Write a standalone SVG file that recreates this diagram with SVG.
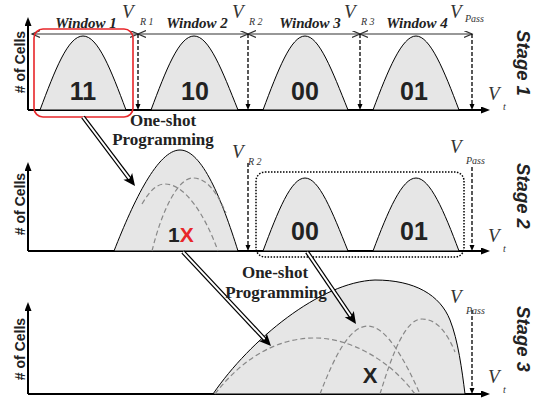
<svg xmlns="http://www.w3.org/2000/svg" width="533" height="400" viewBox="0 0 533 400">
<style>
.ax{stroke:#000;stroke-width:2;fill:none}
.bell{fill:#e6e6e6;stroke:#000;stroke-width:1}
.inner{fill:none;stroke:#888;stroke-width:1.2;stroke-dasharray:5,3}
.vl{stroke:#000;stroke-width:1.3;stroke-dasharray:4,2;fill:none}
.dim{stroke:#333;stroke-width:1.2;fill:none}
.ylab{font-family:"Liberation Sans",Arial,sans-serif;font-weight:bold;font-size:14px;fill:#222}
.stage{font-family:"Liberation Sans",Arial,sans-serif;font-weight:bold;font-style:italic;font-size:18.5px;fill:#222}
.code{font-family:"Liberation Sans",Arial,sans-serif;font-weight:bold;font-size:25px;fill:#222;text-anchor:middle}
.win{font-family:"Liberation Serif","Times New Roman",serif;font-weight:bold;font-style:italic;font-size:15px;fill:#222;text-anchor:middle}
.V{font-family:"Liberation Serif","Times New Roman",serif;font-style:italic;font-size:19px;fill:#333}
.sub{font-family:"Liberation Serif","Times New Roman",serif;font-style:italic;font-size:10px;fill:#333}
.prog{font-family:"Liberation Serif","Times New Roman",serif;font-weight:bold;font-size:17px;fill:#222;text-anchor:middle}
</style>
<defs>
<marker id="axarrow" markerUnits="userSpaceOnUse" markerWidth="10" markerHeight="8" refX="4" refY="3.5" orient="auto"><path d="M0,0 L9,3.5 L0,7 z" fill="#000"/></marker>
<marker id="varrow" markerUnits="userSpaceOnUse" markerWidth="7" markerHeight="6" refX="2" refY="2.5" orient="auto"><path d="M0,0 L6,2.5 L0,5 z" fill="#000"/></marker>
<marker id="dimarrow" markerUnits="userSpaceOnUse" markerWidth="10" markerHeight="8" refX="8" refY="3.5" orient="auto-start-reverse"><path d="M0,0 L8,3.5 L0,7" fill="none" stroke="#333" stroke-width="1.2"/></marker>
</defs>
<rect width="533" height="400" fill="#fff"/>

<!-- Stage 1 -->
<g id="stage1">
  <path class="ax" d="M28,110 L28,22" marker-end="url(#axarrow)"/>
  <path class="ax" d="M28,110 L485,110" marker-end="url(#axarrow)"/>
  <text class="ylab" transform="translate(25,62) rotate(-90)" text-anchor="middle">#  of Cells</text>
  <text class="stage" transform="translate(517,63) rotate(90)" text-anchor="middle">Stage 1</text>
  <g id="s1-window-dims">
    <path class="dim" d="M32,34 L138,34" marker-start="url(#dimarrow)" marker-end="url(#dimarrow)"/>
    <path class="dim" d="M138,34 L248,34" marker-start="url(#dimarrow)" marker-end="url(#dimarrow)"/>
    <path class="dim" d="M248,34 L360,34" marker-start="url(#dimarrow)" marker-end="url(#dimarrow)"/>
    <path class="dim" d="M360,34 L472,34" marker-start="url(#dimarrow)" marker-end="url(#dimarrow)"/>
  </g>
  <g id="s1-vlines">
    <path class="vl" d="M138,34 L138,106" marker-end="url(#varrow)"/>
    <path class="vl" d="M248,34 L248,106" marker-end="url(#varrow)"/>
    <path class="vl" d="M360,34 L360,106" marker-end="url(#varrow)"/>
    <path class="vl" d="M472,34 L472,106" marker-end="url(#varrow)"/>
  </g>
  <g id="s1-11">
    <path class="bell" d="M40,110 C55,70 68,36 83,36 C98,36 111,70 126,110 Z"/>
    <text class="code" x="83" y="100">11</text>
  </g>
  <g id="s1-10">
    <path class="bell" d="M151,110 C166,70 179,36 194,36 C209,36 222,70 238,110 Z"/>
    <text class="code" x="195" y="100">10</text>
  </g>
  <g id="s1-00">
    <path class="bell" d="M263,110 C278,70 291,36 305,36 C319,36 332,70 348,110 Z"/>
    <text class="code" x="305" y="100">00</text>
  </g>
  <g id="s1-01">
    <path class="bell" d="M373,110 C388,70 402,36 416,36 C430,36 444,70 459,110 Z"/>
    <text class="code" x="414" y="100">01</text>
  </g>
  <rect x="34" y="29" width="99" height="88" rx="9" fill="none" stroke="#e8262a" stroke-width="1.6"/>
  <text class="win" x="86" y="28">Window 1</text>
  <text class="win" x="197" y="28">Window 2</text>
  <text class="win" x="310" y="28">Window 3</text>
  <text class="win" x="417" y="28">Window 4</text>
  <text class="V" x="122" y="18">V</text><text class="sub" x="140" y="25">R 1</text>
  <text class="V" x="232" y="18">V</text><text class="sub" x="249" y="25">R 2</text>
  <text class="V" x="344" y="18">V</text><text class="sub" x="361" y="25">R 3</text>
  <text class="V" x="450" y="18">V</text><text class="sub" x="465" y="22">Pass</text>
  <text class="V" x="488" y="100">V</text><text class="sub" x="503" y="110">t</text>
</g>

<!-- Stage 2 -->
<g id="stage2">
  <path class="ax" d="M28,251 L28,167" marker-end="url(#axarrow)"/>
  <path class="ax" d="M28,251 L485,251" marker-end="url(#axarrow)"/>
  <text class="ylab" transform="translate(25,204) rotate(-90)" text-anchor="middle">#  of Cells</text>
  <text class="stage" transform="translate(517,196) rotate(90)" text-anchor="middle">Stage 2</text>
  <g id="s2-1X">
    <path class="bell" d="M114,251 C134,200 158,150 180,150 C202,150 222,200 238,251 Z"/>
    <path class="inner" d="M142,204 C149,192 156,184 165,184 C185,184 205,215 218,251"/>
    <path class="inner" d="M152,251 C162,210 178,178 193,178 C208,178 218,195 226,213"/>
    <text x="168" y="242" font-family="Liberation Sans, Arial, sans-serif" font-weight="bold" font-size="21" fill="#222">1<tspan fill="#e8262a">X</tspan></text>
  </g>
  <g id="s2-00">
    <path class="bell" d="M263,251 C278,211 291,178 305,178 C319,178 332,211 348,251 Z"/>
    <text class="code" x="305" y="240">00</text>
  </g>
  <g id="s2-01">
    <path class="bell" d="M373,251 C388,211 402,178 416,178 C430,178 444,211 459,251 Z"/>
    <text class="code" x="414" y="240">01</text>
  </g>
  <rect x="256" y="172" width="208" height="85" rx="9" fill="none" stroke="#000" stroke-width="1.5" stroke-dasharray="1.5,1.5"/>
  <path class="vl" d="M248,163 L248,247" marker-end="url(#varrow)"/>
  <path class="vl" d="M472,167 L472,247" marker-end="url(#varrow)"/>
  <text class="V" x="232" y="158">V</text><text class="sub" x="248" y="165">R 2</text>
  <text class="V" x="450" y="153">V</text><text class="sub" x="466" y="164">Pass</text>
  <text class="V" x="488" y="242">V</text><text class="sub" x="503" y="252">t</text>
</g>

<!-- Stage 3 -->
<g id="stage3">
  <path class="ax" d="M28,394 L28,307" marker-end="url(#axarrow)"/>
  <path class="ax" d="M28,394 L485,394" marker-end="url(#axarrow)"/>
  <text class="ylab" transform="translate(25,349) rotate(-90)" text-anchor="middle">#  of Cells</text>
  <text class="stage" transform="translate(517,339) rotate(90)" text-anchor="middle">Stage 3</text>
  <g id="s3-X">
    <path class="bell" d="M213,394 C250,340 320,282 375,280 C415,280 440,295 450,320 C458,340 462,370 465,394 Z"/>
    <path class="inner" d="M215,394 C245,355 280,338 315,338 C350,338 390,360 415,394"/>
    <path class="inner" d="M320,394 C335,355 350,326 368,326 C386,326 405,360 420,394"/>
    <path class="inner" d="M380,394 C392,355 405,319 422,319 C438,319 448,335 455,352"/>
    <text x="370" y="383" font-family="Liberation Sans, Arial, sans-serif" font-weight="bold" font-size="22" fill="#222" text-anchor="middle">X</text>
  </g>
  <path class="vl" d="M472,310 L472,390" marker-end="url(#varrow)"/>
  <text class="V" x="450" y="303">V</text><text class="sub" x="466" y="314">Pass</text>
  <text class="V" x="488" y="383">V</text><text class="sub" x="503" y="393">t</text>
</g>

<!-- Connectors -->
<g id="connectors">
  <g transform="translate(135,186) rotate(53.0)">
    <path d="M-86.4,0 L-7,0" stroke="#000" stroke-width="4.4"/>
    <path d="M-86.4,0 L-9,0" stroke="#fff" stroke-width="2"/>
    <polygon points="0,0 -12,-5.5 -9,0 -12,5.5" fill="#000"/>
  </g>
  <g transform="translate(271,346) rotate(46.9)">
    <path d="M-128.8,0 L-7,0" stroke="#000" stroke-width="4.4"/>
    <path d="M-128.8,0 L-9,0" stroke="#fff" stroke-width="2"/>
    <polygon points="0,0 -12,-5.5 -9,0 -12,5.5" fill="#000"/>
  </g>
  <g transform="translate(356,324) rotate(55.8)">
    <path d="M-87.1,0 L-7,0" stroke="#000" stroke-width="4.4"/>
    <path d="M-87.1,0 L-9,0" stroke="#fff" stroke-width="2"/>
    <polygon points="0,0 -12,-5.5 -9,0 -12,5.5" fill="#000"/>
  </g>
</g>

<g id="labels">
  <text class="prog" x="163" y="126">One-shot</text>
  <text class="prog" x="163" y="145">Programming</text>
  <text class="prog" x="275" y="278">One-shot</text>
  <text class="prog" x="276" y="298">Programming</text>
</g>
</svg>
